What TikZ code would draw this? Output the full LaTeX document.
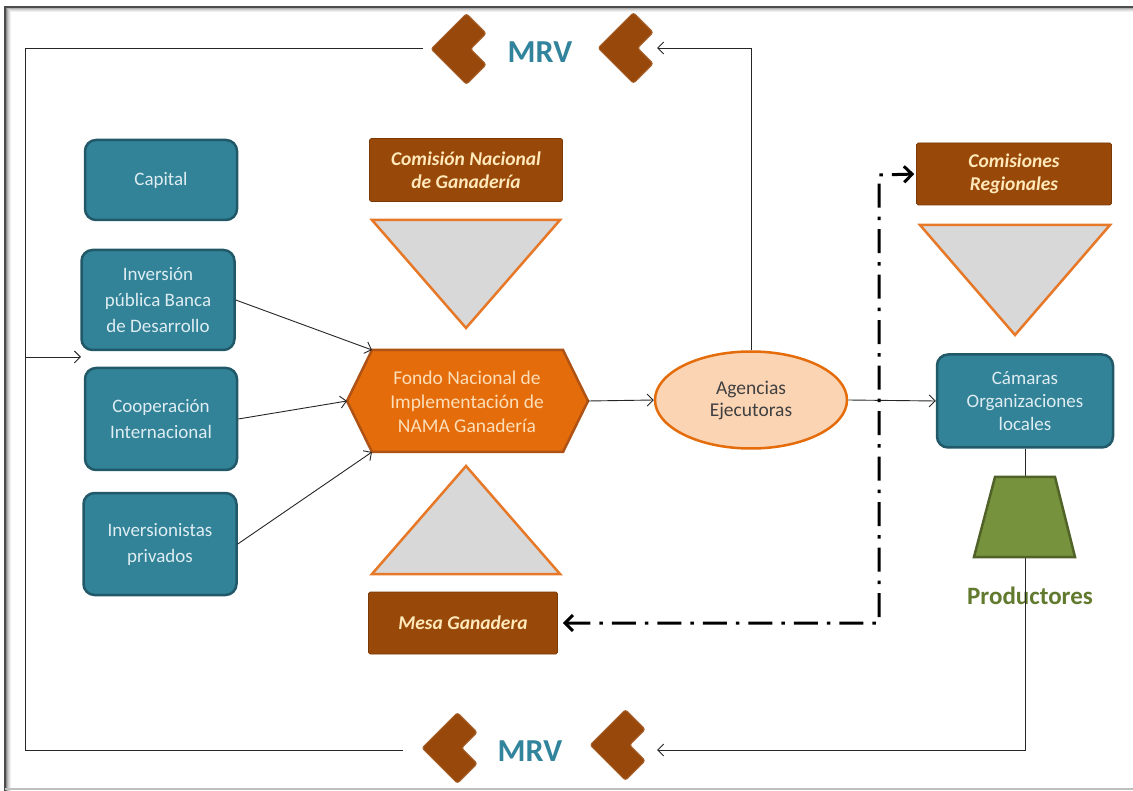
\documentclass[tikz,border=0pt]{standalone}
\usepackage{fontspec}
\setmainfont{Carlito}
\usetikzlibrary{arrows.meta,shapes.geometric}
\definecolor{tealF}{RGB}{50,130,152}
\definecolor{tealD}{RGB}{33,89,104}
\definecolor{tealT}{RGB}{222,237,242}
\definecolor{brownF}{RGB}{152,72,8}
\definecolor{creamT}{RGB}{255,232,185}
\definecolor{orangeF}{RGB}{228,108,10}
\definecolor{orangeD}{RGB}{175,82,22}
\definecolor{hexT}{RGB}{252,222,185}
\definecolor{grayF}{RGB}{216,216,216}
\definecolor{triD}{RGB}{230,120,40}
\definecolor{peachF}{RGB}{251,212,180}
\definecolor{greenF}{RGB}{118,146,60}
\definecolor{greenD}{RGB}{80,98,40}
\definecolor{greenT}{RGB}{98,122,46}
\definecolor{mrvC}{RGB}{49,132,155}
\definecolor{chevC}{RGB}{152,72,10}
\begin{document}
\begin{tikzpicture}[x=1pt,y=-1pt,
  tealbox/.style={draw=tealD, fill=tealF, line width=2.5pt, rounded corners=11pt,
    text=tealT, align=center, font=\fontsize{19}{26}\selectfont},
  brownbox/.style={fill=brownF, draw=brownF!80!black, line width=0.6pt, rounded corners=1.5pt, text=creamT, align=center,
    font=\fontsize{19.5}{23}\selectfont\bfseries\itshape},
  tri/.style={fill=grayF, draw=triD, line width=2.5pt, line join=miter},
  arr/.style={draw=black!85, line width=0.9pt, -{Straight Barb[length=6pt,width=12pt,line width=0.9pt]}},
  ln/.style={draw=black!85, line width=0.9pt},
  dd/.style={draw=black, line width=3pt, dash pattern=on 24pt off 9pt on 3.5pt off 9pt},
  chev/.style={fill=chevC, draw=chevC!85!white, line width=1pt, rounded corners=2.5pt},
  mrv/.style={text=mrvC, font=\fontsize{32}{36}\selectfont\bfseries}
]
\useasboundingbox (0,0) rectangle (1133,791);
\fill[white] (0,0) rectangle (1133,791);
% frame with shadow
\foreach \i/\c in {1/45,2/30,3/20,4/12,5/6} {
  \draw[black!\c, line width=1pt] (5+\i,791) -- (5+\i,7+\i) -- (1133,7+\i);
}
\draw[black!70, line width=1.6pt] (5,791) -- (5,7) -- (1133,7);
\draw[black!25, line width=1.2pt] (5,789) -- (1133,789);

% chevrons
\foreach \n/\tx/\ty in {TL/431/49, TR/598/48, BL/422/748, BR/590/745} {
  \coordinate (chev\n) at (\tx,\ty);
  \fill[chev] (\tx,\ty) -- ++(35.4,-35.4) -- ++(19.8,19.8) -- ++(-15.6,15.6) -- ++(15.6,15.6) -- ++(-19.8,19.8) -- cycle;
}
\node[mrv] (mrvtop) at (540,52) {MRV};
\node[mrv] (mrvbot) at (530,751) {MRV};

% left boxes
\node[tealbox, minimum width=152pt, minimum height=80pt] (cap) at (161,180) {Capital};
\node[tealbox, minimum width=153pt, minimum height=100pt] (inv) at (158,300) {Inversión\\pública Banca\\de Desarrollo};
\node[tealbox, minimum width=152pt, minimum height=102pt] (coop) at (161,419) {Cooperación\\Internacional};
\node[tealbox, minimum width=153pt, minimum height=102pt] (priv) at (160,544) {Inversionistas\\privados};

% brown boxes
\node[brownbox, minimum width=193pt, minimum height=63pt] (cng) at (466,170) {Comisión Nacional\\de Ganadería};
\node[brownbox, minimum width=189pt, minimum height=62pt] (mesa) at (463,623) {Mesa Ganadera};
\node[brownbox, minimum width=195pt, minimum height=62pt] (creg) at (1014,174) {Comisiones\\Regionales};

% triangles
\draw[tri] (372,220) -- (560,220) -- (466,328) -- cycle;
\draw[tri] (466,466) -- (560,574) -- (372,574) -- cycle;
\draw[tri] (920,225) -- (1110,225) -- (1015,335) -- cycle;

% hexagon
\coordinate (hexW) at (347,401);
\coordinate (hexNW) at (372,350);
\coordinate (hexNE) at (563,350);
\coordinate (hexE) at (588,401);
\coordinate (hexSE) at (563,452);
\coordinate (hexSW) at (372,452);
\draw[fill=orangeF, draw=orangeD, line width=2.5pt, line join=miter] (hexW) -- (hexNW) -- (hexNE) -- (hexE) -- (hexSE) -- (hexSW) -- cycle;
\node[text=hexT, align=center, font=\fontsize{19.5}{24}\selectfont] (hex) at (467,402) {Fondo Nacional de\\Implementación de\\NAMA Ganadería};

% ellipse
\node[ellipse, fill=peachF, draw=orangeF, line width=2.5pt, minimum width=192pt, minimum height=97pt,
  text=black!75, align=center, font=\fontsize{19.5}{22}\selectfont] (ag) at (751,400) {Agencias\\Ejecutoras};

% Camaras
\node[tealbox, minimum width=176pt, minimum height=93pt, font=\fontsize{19}{23}\selectfont] (cam) at (1025,401) {Cámaras\\Organizaciones\\locales};

% productores
\node[text=greenT, font=\fontsize{25}{28}\selectfont\bfseries] (prod) at (1030,596) {Productores};

% connectors
\coordinate (mrvTLend) at (423,48);
\coordinate (mrvTRend) at (657,48);
\coordinate (mrvBLend) at (403,750);
\coordinate (mrvBRend) at (657,750);
\coordinate (cTL) at (25,48);
\coordinate (cBL) at (25,750);
\coordinate (cBR) at (1025,750);
\coordinate (lin) at (25,357);
\coordinate (lintip) at (81,357);
\coordinate (ddtop) at (879,175);

\draw[arr] (ag.north) |- (mrvTRend);
\draw[ln] (mrvTLend) -- (cTL) -- (cBL) -- (mrvBLend);
\draw[arr] (lin) -- (lintip);
\draw[arr] (cam.south) -- (cBR) -- (mrvBRend);

\draw[arr] (inv.east) -- (hexNW);
\draw[arr] (coop.east) -- (hexW);
\draw[arr] (priv.east) -- (hexSW);
\draw[arr] (hexE) -- (ag.west);
\draw[arr] (ag.east) -- (cam.west);

\draw[dd, {Straight Barb[length=8pt,width=16pt,line width=3pt]}-{Straight Barb[length=8pt,width=16pt,line width=3pt]}, shorten <=5pt, shorten >=2pt]
  (mesa.east) -| (ddtop) -- (creg.west);

% trapezoid (over the vertical line)
\draw[fill=greenF, draw=greenD, line width=2.5pt, line join=miter] (995,477) -- (1055,477) -- (1075,557) -- (974,557) -- cycle;
\end{tikzpicture}
\end{document}
